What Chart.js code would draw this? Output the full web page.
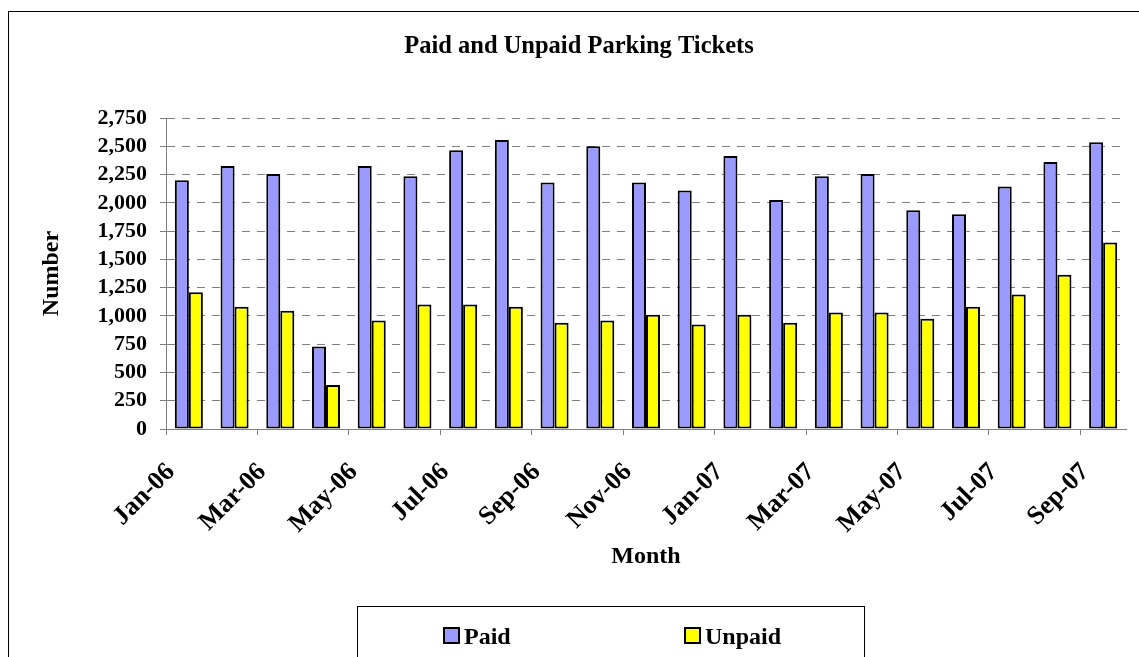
<!DOCTYPE html>
<html>
<head>
<meta charset="utf-8">
<title>Paid and Unpaid Parking Tickets</title>
<script src="https://cdn.jsdelivr.net/npm/chart.js@4.4.1/dist/chart.umd.min.js"></script>
<style>
	html, body { margin: 0; padding: 0; background: #fff; overflow: hidden; }
	#wrap { position: absolute; left: 0; top: 0; width: 1150px; height: 657px; }
</style>
</head>
<body>
<div id="wrap"><canvas id="myChart" width="1150" height="657"></canvas></div>
<script>
const months = ['Jan-06', 'Feb-06', 'Mar-06', 'Apr-06', 'May-06', 'Jun-06', 'Jul-06', 'Aug-06', 'Sep-06', 'Oct-06', 'Nov-06', 'Dec-06',
	'Jan-07', 'Feb-07', 'Mar-07', 'Apr-07', 'May-07', 'Jun-07', 'Jul-07', 'Aug-07', 'Sep-07']
const paid = [2200, 2325, 2255, 730, 2325, 2235, 2465, 2555, 2180, 2500, 2180, 2110,
	2415, 2025, 2235, 2255, 1935, 1900, 2145, 2360, 2535]
const unpaid = [1210, 1080, 1045, 390, 960, 1100, 1100, 1080, 940, 960, 1010, 925,
	1010, 940, 1030, 1030, 975, 1080, 1190, 1365, 1650]
const yTicks = [0, 250, 500, 750, 1000, 1250, 1500, 1750, 2000, 2250, 2500, 2750]

const serif = "'Liberation Serif', 'Times New Roman', serif"
const gray = '#808080'

let myChart

// outer frame + boxed legend, drawn like the spreadsheet original
const framePlugin = {
	id: 'frame',
	beforeDraw(chart) {
		const ctx = chart.ctx
		ctx.save()
		ctx.strokeStyle = '#000'
		ctx.lineWidth = 1
		ctx.strokeRect(8.5, 11.5, 2000, 2000)
		ctx.restore()
	},
	afterDraw(chart) {
		const ctx = chart.ctx
		ctx.save()
		ctx.strokeStyle = '#000'
		ctx.lineWidth = 1
		ctx.strokeRect(357.5, 606.5, 507, 200)
		const itemX = [444, 685]
		ctx.font = 'bold 24px ' + serif
		ctx.textBaseline = 'alphabetic'
		chart.data.datasets.forEach((ds, i) => {
			ctx.fillStyle = ds.backgroundColor
			ctx.fillRect(itemX[i], 628, 15, 15)
			ctx.lineWidth = 2
			ctx.strokeRect(itemX[i], 628, 15, 15)
			ctx.fillStyle = '#000'
			ctx.fillText(ds.label, itemX[i] + 20, 644)
		})
		ctx.restore()
	}
}

function init(){
	const ctx = document.getElementById('myChart').getContext('2d')
	myChart = new Chart(ctx, {
		type: 'bar',
		data: {
			labels: months,
			datasets: [{
				label: 'Paid',
				data: paid,
				backgroundColor: '#9999FF',
				borderColor: '#000',
				borderWidth: 2,
				borderSkipped: false,
			}, {
				label: 'Unpaid',
				data: unpaid,
				backgroundColor: '#FFFF00',
				borderColor: '#000',
				borderWidth: 2,
				borderSkipped: false,
			}],
		},
		options: {
			responsive: false,
			animation: false,
			layout: {
				padding: { left: 8, top: 0, right: 0, bottom: 0 }
			},
			datasets: {
				bar: {
					categoryPercentage: 0.613,
					barPercentage: 1,
				}
			},
			plugins: {
				legend: { display: false },
				tooltip: { enabled: false },
				title: {
					display: true,
					text: 'Paid and Unpaid Parking Tickets',
					color: '#000',
					font: { family: serif, size: 24.5, weight: 'bold' },
					padding: { top: 32, bottom: 56.6 },
				},
			},
			scales: {
				x: {
					offset: true,
					afterFit: s => { s.height = 228 },
					grid: {
						offset: true,
						drawOnChartArea: false,
						tickLength: 6,
						tickColor: c => c.index % 2 === 0 ? gray : 'rgba(0,0,0,0)',
					},
					border: { color: gray, width: 1 },
					ticks: {
						autoSkip: false,
						minRotation: 45,
						maxRotation: 45,
						padding: 22,
						labelOffset: -18,
						color: '#000',
						font: { family: serif, size: 26, weight: 'bold' },
						callback: function (value, index) {
							return index % 2 === 0 ? this.getLabelForValue(value) : ''
						}
					},
					title: {
						display: true,
						text: 'Month',
						color: '#000',
						font: { family: serif, size: 24, weight: 'bold' },
						padding: { top: 0, bottom: 85.6 },
					}
				},
				y: {
					min: yTicks[0],
					max: yTicks[yTicks.length - 1],
					afterFit: s => { s.width = 158 },
					afterBuildTicks: s => { s.ticks = yTicks.map(v => ({ value: v })) },
					grid: {
						color: gray,
						lineWidth: 1,
						tickLength: 6,
						tickColor: gray,
					},
					border: { color: gray, width: 1, dash: [8, 7] },
					ticks: {
						autoSkip: false,
						padding: 13,
						color: '#000',
						font: { family: serif, size: 22, weight: 'bold' },
						callback: v => v.toLocaleString('en-US')
					},
					title: {
						display: true,
						text: 'Number',
						color: '#000',
						font: { family: serif, size: 24, weight: 'bold' },
						padding: { top: 29.5, bottom: 0 },
					}
				},
				y2: {
					position: 'right',
					afterFit: s => { s.width = 24 },
					grid: { drawOnChartArea: false, drawTicks: false },
					border: { display: false },
					ticks: { display: false },
				}
			}
		},
		plugins: [framePlugin]
	})
}

init()
</script>
</body>
</html>
